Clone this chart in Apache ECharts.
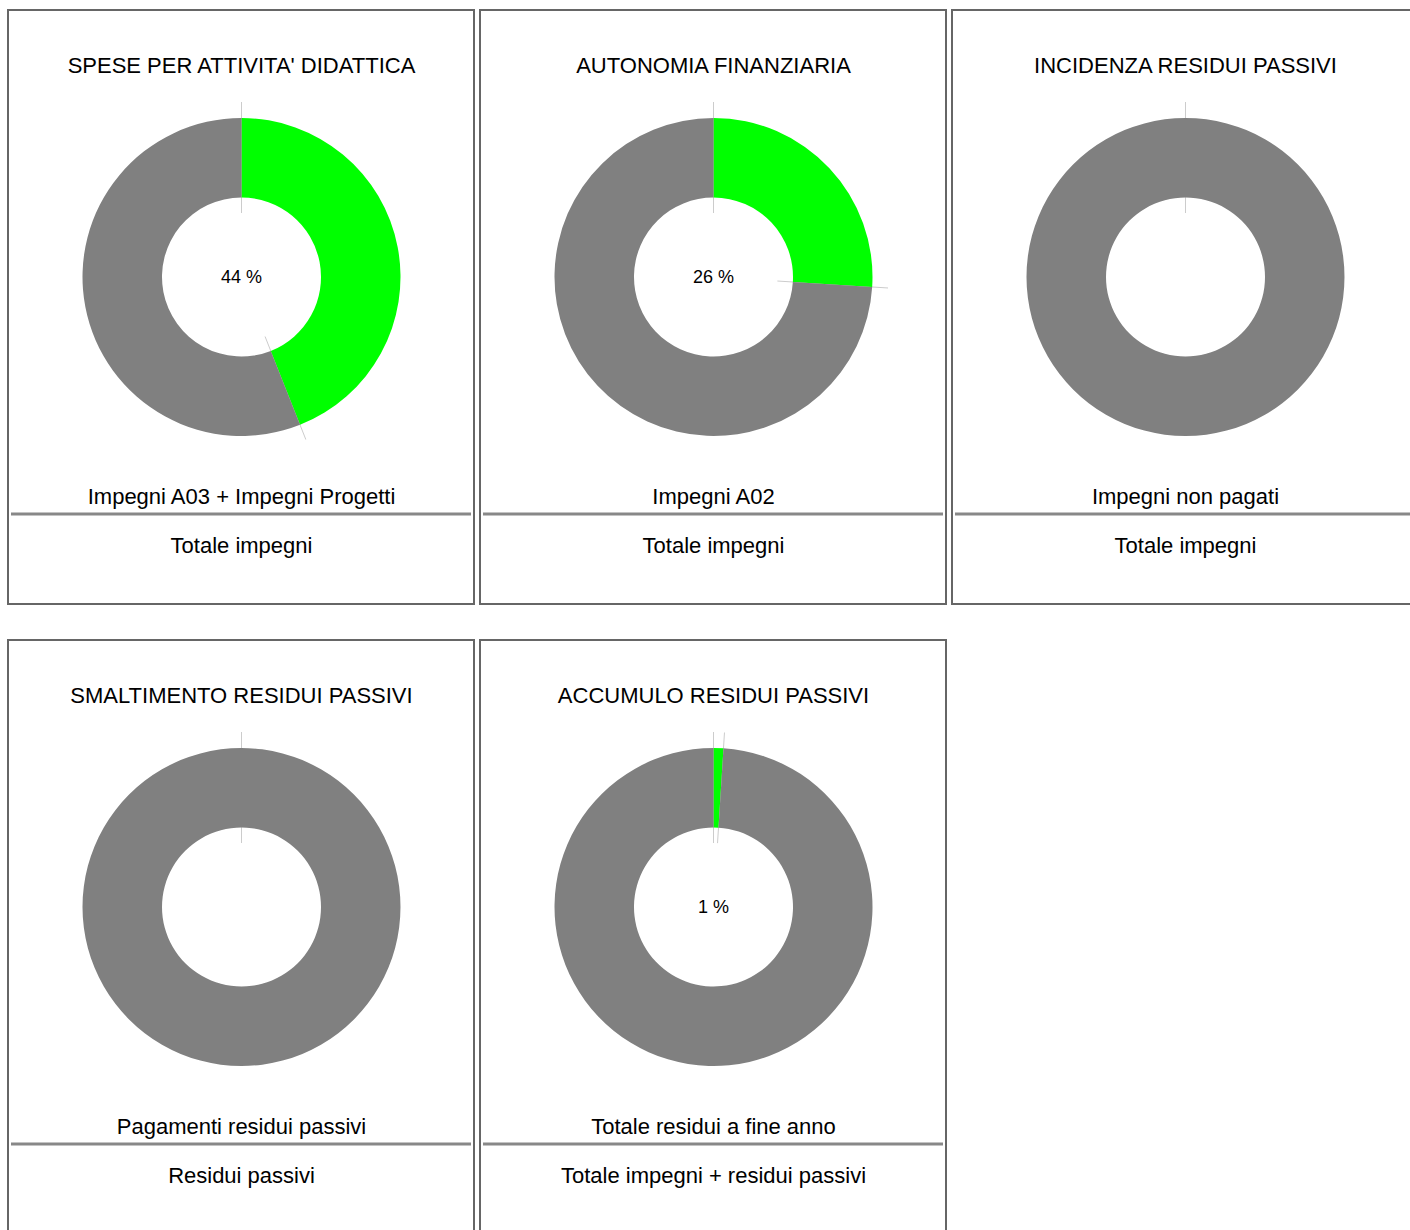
<!DOCTYPE html>
<html>
<head>
<meta charset="utf-8">
<script src="https://cdn.jsdelivr.net/npm/echarts@6/dist/echarts.min.js"></script>
<style>
html,body{margin:0;padding:0;background:#fff;}
#chart{width:1410px;height:1230px;}
</style>
</head>
<body>
<div id="chart"></div>
<script>
// ---- data ----
const titles = [
  "SPESE PER ATTIVITA' DIDATTICA",
  "AUTONOMIA FINANZIARIA",
  "INCIDENZA RESIDUI PASSIVI",
  "SMALTIMENTO RESIDUI PASSIVI",
  "ACCUMULO RESIDUI PASSIVI"
];
const numerators = [
  "Impegni A03 + Impegni Progetti",
  "Impegni A02",
  "Impegni non pagati",
  "Pagamenti residui passivi",
  "Totale residui a fine anno"
];
const denominators = [
  "Totale impegni",
  "Totale impegni",
  "Totale impegni",
  "Residui passivi",
  "Totale impegni + residui passivi"
];
const percentages = [44, 26, 0, 0, 1];

// ---- layout / style ----
const GREEN = '#00ff00', GRAY = '#808080', LINE = '#cccccc';
const FONT = 'Liberation Sans, Arial, sans-serif';
const colLeft = [7, 479, 951];
const rowTop = [9, 639];
const R_OUT = 159, R_IN = 79.5, L_IN = 64, L_OUT = 175;

const chart = echarts.init(document.getElementById('chart'), null, {renderer: 'svg'});
const series = [], polar = [], angleAxis = [], radiusAxis = [], graphic = [];

percentages.forEach(function (p, i) {
  const L = colLeft[i % 3], T = rowTop[Math.floor(i / 3)];
  const cx = L + 234.5, cy = T + 268;

  // panel border
  graphic.push({type: 'rect', silent: true, z: 0,
    shape: {x: L + 1, y: T + 1, width: 466, height: 594},
    style: {fill: 'none', stroke: '#666666', lineWidth: 2}});
  // divider
  graphic.push({type: 'line', silent: true,
    shape: {x1: L + 4, y1: T + 505, x2: L + 464, y2: T + 505},
    style: {stroke: '#888888', lineWidth: 3}});
  // texts
  graphic.push({type: 'text', silent: true,
    style: {text: titles[i], x: cx, y: T + 56, textAlign: 'center', textVerticalAlign: 'middle',
      font: '22px ' + FONT, fill: '#000'}});
  graphic.push({type: 'text', silent: true,
    style: {text: numerators[i], x: cx, y: T + 487, textAlign: 'center', textVerticalAlign: 'middle',
      font: '22px ' + FONT, fill: '#000'}});
  graphic.push({type: 'text', silent: true,
    style: {text: denominators[i], x: cx, y: T + 536, textAlign: 'center', textVerticalAlign: 'middle',
      font: '22px ' + FONT, fill: '#000'}});
  if (p > 0) {
    graphic.push({type: 'text', silent: true, z: 10,
      style: {text: p + ' %', x: cx, y: cy, textAlign: 'center', textVerticalAlign: 'middle',
        font: '18px ' + FONT, fill: '#000'}});
  }

  // donut
  series.push({
    type: 'pie', silent: true, z: 3, animation: false,
    center: [cx, cy], radius: [R_IN, R_OUT],
    startAngle: 90, clockwise: true,
    label: {show: false}, labelLine: {show: false},
    data: [
      {value: p, name: numerators[i], itemStyle: {color: GREEN}},
      {value: 100 - p, name: denominators[i], itemStyle: {color: GRAY}}
    ]
  });

  // slice boundary lines (drawn under the donut)
  polar.push({center: [cx, cy], radius: L_OUT});
  angleAxis.push({polarIndex: i, type: 'value', min: 0, max: 100, startAngle: 90, clockwise: true, show: false});
  radiusAxis.push({polarIndex: i, type: 'value', min: 0, max: L_OUT, show: false});
  const bounds = (p > 0 && p < 100) ? [0, p] : [0];
  bounds.forEach(function (b) {
    series.push({
      type: 'line', coordinateSystem: 'polar', polarIndex: i, silent: true, z: 1, animation: false,
      showSymbol: false, symbol: 'none',
      lineStyle: {color: LINE, width: 1},
      data: [[L_IN, b], [L_OUT, b]]
    });
  });
});

chart.setOption({
  backgroundColor: '#ffffff',
  animation: false,
  polar: polar,
  angleAxis: angleAxis,
  radiusAxis: radiusAxis,
  series: series,
  graphic: graphic
});
</script>
</body>
</html>
